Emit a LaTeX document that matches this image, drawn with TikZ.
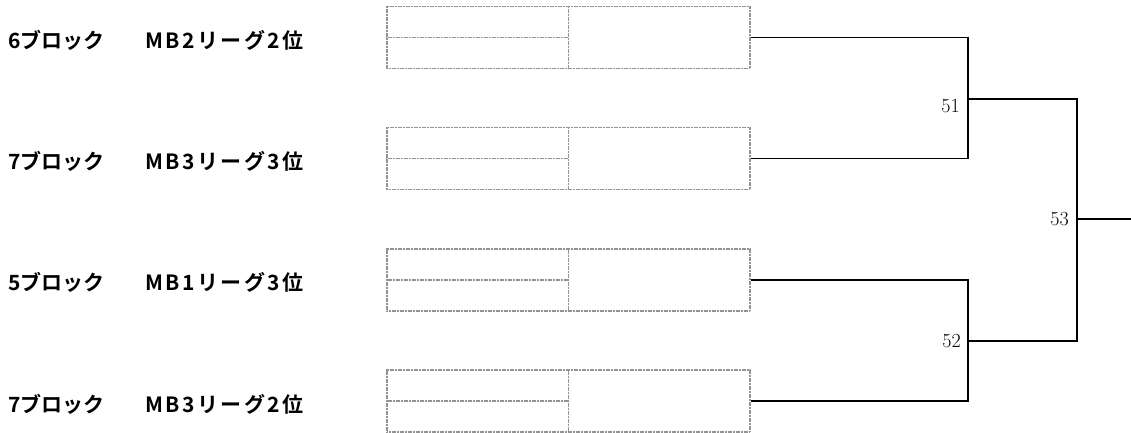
\documentclass[tikz,border=0pt]{standalone}
\usepackage{fontspec}
\newfontfamily\jpfont{Noto Sans CJK JP}[BoldFont={Noto Sans CJK JP Bold}]
\newfontfamily\jpwide{Noto Sans CJK JP}[BoldFont={Noto Sans CJK JP Bold}, LetterSpace=12]
\usepackage{tikz}
\usetikzlibrary{positioning,calc}

\begin{document}
\begin{tikzpicture}[x=1pt, y=-1pt,
    team/.style={anchor=west, inner sep=0pt, font=\jpfont\bfseries\fontsize{21}{21}\selectfont},
    league/.style={team, font=\jpwide\bfseries\fontsize{21}{21}\selectfont},
    entry/.style={draw=gray!85, dash pattern=on 1.2pt off 0.4pt, line width=1.8pt, minimum width=363pt, minimum height=62pt, inner sep=0pt},
    split/.style={draw=gray!85, dash pattern=on 1.2pt off 0.4pt, line width=1.8pt},
    wire/.style={black, line width=1.7pt},
    matchno/.style={inner sep=0pt, font=\fontsize{20}{20}\selectfont}]
  \useasboundingbox (0,0) rectangle (1131,432);

  % Teams
  \node[team] (B1) at (8,40) {6ブロック};
  \node[league] (L1) at (145,40) {MB2リーグ2位};
  \node[team] (B2) at (8,161) {7ブロック};
  \node[league] (L2) at (145,161) {MB3リーグ3位};
  \node[team] (B3) at (8,282) {5ブロック};
  \node[league] (L3) at (145,282) {MB1リーグ3位};
  \node[team] (B4) at (8,404) {7ブロック};
  \node[league] (L4) at (145,404) {MB3リーグ2位};

  % Entry boxes
  \foreach \i/\y in {1/37.5, 2/158.5, 3/280, 4/401} {
    \node[entry] (E\i) at (568.5,\y) {};
    \draw[split] (E\i.north) -- (E\i.south);
    \draw[split] (E\i.west) -- (E\i.center);
  }

  % Match points
  \coordinate (M51) at (968,99);
  \coordinate (M52) at (968,341);
  \coordinate (M53) at (1077,219);
  \coordinate (Win) at (1131,219);

  % Bracket
  \draw[wire] (E1.east) -| (M51);
  \draw[wire] (E2.east) -| (M51);
  \draw[wire] (E3.east) -| (M52);
  \draw[wire] (E4.east) -| (M52);
  \draw[wire] (M51) -| (M53);
  \draw[wire] (M52) -| (M53);
  \draw[wire] (M53) -- (Win);

  \node[matchno, anchor=north east] (N51) at ($(M51)+(-8,0)$) {51};
  \node[matchno, anchor=east] (N52) at ($(M52)+(-7,0)$) {52};
  \node[matchno, anchor=east] (N53) at ($(M53)+(-8,0)$) {53};
\end{tikzpicture}
\end{document}
